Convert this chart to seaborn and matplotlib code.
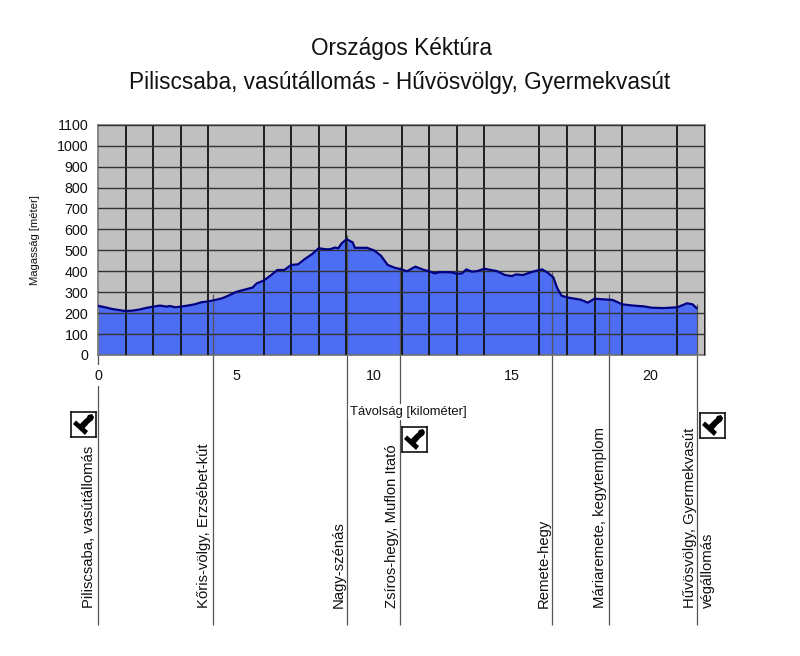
import matplotlib
matplotlib.use("Agg")
import matplotlib.pyplot as plt
import numpy as np
import pandas as pd
import seaborn as sns
from matplotlib.patches import Polygon

km = [0, .25, .5, .75, 1, 1.25, 1.5, 1.75, 2, 2.25, 2.5, 2.6, 2.8, 3, 3.25, 3.5, 3.75, 4, 4.25, 4.5, 4.75, 5,
      5.25, 5.6, 5.75, 6, 6.25, 6.5, 6.75, 7, 7.25, 7.5, 7.75, 8, 8.25, 8.4, 8.59, 8.71, 8.83, 9.01, 9.23, 9.31, 9.75,
      10, 10.25, 10.5, 10.75, 11, 11.2, 11.5, 11.8, 12, 12.2, 12.4, 12.8, 13, 13.2, 13.35, 13.55, 13.75, 14,
      14.45, 14.75, 15, 15.15, 15.4, 15.75, 16.1, 16.3, 16.5, 16.65, 16.8, 17.05, 17.5, 17.75, 18, 18.3, 18.65,
      19, 19.4, 19.8, 20.05, 20.5, 21, 21.35, 21.55, 21.7]
elev = [235, 228, 220, 215, 210, 212, 217, 225, 231, 236, 231, 234, 228, 231, 236, 242, 252, 256, 263, 271, 285, 301,
        310, 322, 342, 355, 379, 406, 406, 430, 433, 459, 481, 510, 505, 505, 513, 510, 533, 553, 538, 512, 512,
        500, 475, 430, 417, 409, 400, 422, 407, 400, 390, 396, 395, 388, 390, 409, 398, 401, 412,
        401, 382, 377, 385, 382, 398, 409, 393, 371, 318, 283, 274, 264, 250, 269, 266, 263,
        242, 236, 232, 226, 224, 228, 247, 242, 223]

place_km = [0, 4.15, 9.04, 10.95, 16.46, 18.53, 21.71]
place_top = [240, 291, 573, 420, 396, 291, 244]
place_names = ["Piliscsaba, vasútállomás", "Kőris-völgy, Erzsébet-kút", "Nagy-szénás",
               "Zsíros-hegy, Muflon Itató", "Remete-hegy", "Máriaremete, kegytemplom",
               "Hűvösvölgy, Gyermekvasút\nvégállomás"]
place_label_x = [89, 204, 339, 392, 544, 600, 699]
stamp_boxes = [(71, 412), (402, 427), (700, 413)]

sns.set_theme(style="white")
plt.rcParams['font.family'] = ['Liberation Sans', 'DejaVu Sans']

W, H = 800, 656
fig = plt.figure(figsize=(W / 100, H / 100), dpi=100, facecolor="white")
ax = fig.add_axes([98 / W, 1 - 355 / H, (705 - 98) / W, (355 - 124.7) / H])
ax.set_facecolor("#C0C0C0")
df = pd.DataFrame({"km": km, "elev": elev})
ax.fill_between(df.km, df.elev, 0, color="#4D6DF3", lw=0, zorder=1)
ax.set_xlim(0, 22)
ax.set_ylim(0, 1100)
ax.set_xticks(np.arange(0, 21, 5))
ax.set_xticks(np.arange(0, 23, 1), minor=True)
ax.set_yticks(np.arange(0, 1101, 100))
ax.tick_params(axis="x", which="major", length=4, width=.8, color="#808080", labelsize=10.3, pad=6, labelcolor="#111")
ax.tick_params(axis="x", which="minor", length=0)
ax.tick_params(axis="y", length=3.6, width=.8, color="#555555", labelsize=10.3, pad=3.5, labelcolor="#111")
ax.grid(axis="x", which="minor", color="#111111", lw=1.3)
ax.grid(axis="y", which="major", color="#333333", lw=1.0)
ax.set_axisbelow(False)
for s in ax.spines.values():
    s.set_color("#808080")
    s.set_linewidth(1.3)
sns.lineplot(data=df, x="km", y="elev", ax=ax, color="#000080", lw=1.6, zorder=4, sort=False, errorbar=None)
ax.set_xlabel("")
ax.set_ylabel("")
for t in ax.get_xticklabels():
    t.set_bbox(dict(fc="white", ec="none", pad=2.5))

# Waypoint lines and labels
bottom = -1290
ax.vlines(place_km, bottom, place_top, color="#555555", lw=0.9, clip_on=False, zorder=1.5)
for name, px in zip(place_names, place_label_x):
    fig.text(px / W, 1 - 608 / H, name, rotation=90, ha="center", va="bottom",
             fontsize=10.7, color="#111", multialignment="left", linespacing=1.4)

fig.text(408 / W, 1 - 412 / H, "Távolság [kilométer]", ha="center", va="center", fontsize=9.4, color="#111",
         bbox=dict(fc="white", ec="none", pad=1.5), zorder=6)
fig.text(35 / W, 1 - 240 / H, "Magasság [méter]", rotation=90, ha="center", va="center", fontsize=8.1, color="#111")
fig.text(402 / W, 1 - 48 / H, "Országos Kéktúra", ha="center", va="center", fontsize=16.3, color="#111")
fig.text(400 / W, 1 - 83 / H, "Piliscsaba, vasútállomás - Hűvösvölgy, Gyermekvasút", ha="center", va="center",
         fontsize=16.3, color="#111")

# Stamp icons
for x0, y0 in stamp_boxes:
    a = fig.add_axes([x0 / W, 1 - (y0 + 25) / H, 25 / W, 25 / H], zorder=7)
    a.set_xlim(0, 25); a.set_ylim(25, 0); a.set_xticks([]); a.set_yticks([])
    a.set_facecolor("white")
    for s in a.spines.values():
        s.set_color("#111"); s.set_linewidth(1.2)
    a.add_patch(Polygon([(2, 12), (5, 8.5), (17, 19), (14, 23)], fc="black", ec="none"))
    a.add_patch(Polygon([(8, 13), (15, 6), (19, 10), (12, 18)], fc="black", ec="none"))
    a.add_patch(Polygon([(15, 7), (17, 3), (21, 2), (23, 5), (22, 8), (18, 11)], fc="black", ec="none"))

fig.savefig("out.png", dpi=100)
